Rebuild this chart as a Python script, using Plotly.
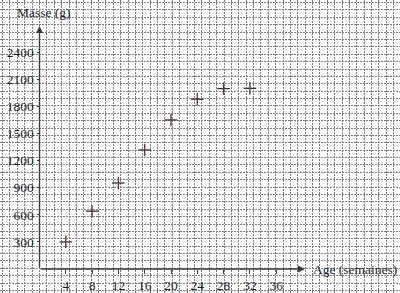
import plotly.graph_objects as go

# ---- data ----
weeks = [4, 8, 12, 16, 20, 24, 28, 32]
mass = [300, 640, 952, 1318, 1650, 1880, 1997, 2000]
x_ticks = [4, 8, 12, 16, 20, 24, 28, 32, 36]
y_ticks = [300, 600, 900, 1200, 1500, 1800, 2100, 2400]
x_title = "Age (semaines)"
y_title = "Masse (g)"

# ---- geometry (pixels) ----
W, H = 400, 293
ox, oy = 39.5, 269.0          # origin pixel
px_x = 26.3 / 4               # px per week
px_y = 27.1 / 300             # px per gram
x_range = [-ox / px_x, (W - ox) / px_x]
y_range = [-(H - oy) / px_y, oy / px_y]
x_end = (305 - ox) / px_x
y_end = (oy - 26) / px_y

FONT = "Liberation Serif, Times New Roman, serif"
TXT = "#1a1a28"
AX = "#3a3a3a"
GRID = "#7c7c7c"

fig = go.Figure()

# invisible trace for the grid (paper-like) axes
fig.add_trace(go.Scatter(x=[0], y=[0], xaxis="x2", yaxis="y2", mode="markers",
                         marker=dict(opacity=0), hoverinfo="skip", showlegend=False))

# data crosses (two strokes to mimic the reference rendering)
fig.add_trace(go.Scatter(x=weeks, y=mass, mode="markers", showlegend=False,
                         marker=dict(symbol="line-ew", size=9,
                                     line=dict(color="#26304f", width=1.3))))
fig.add_trace(go.Scatter(x=weeks, y=mass, mode="markers", showlegend=False,
                         marker=dict(symbol="line-ns", size=9,
                                     line=dict(color="#6b3a2e", width=1.4))))

fig.update_layout(
    width=W, height=H,
    margin=dict(l=0, r=0, t=0, b=0),
    paper_bgcolor="white", plot_bgcolor="white",
    font=dict(family=FONT, size=13, color=TXT),
    xaxis=dict(range=x_range, anchor="free", position=(H - oy) / H,
               showgrid=False, zeroline=False, showline=False,
               tickmode="array", tickvals=x_ticks, ticks="outside", ticklen=4,
               tickcolor=AX, tickfont=dict(size=13.5, family=FONT, color=TXT)),
    yaxis=dict(range=y_range, anchor="free", position=ox / W,
               showgrid=False, zeroline=False, showline=False,
               tickmode="array", tickvals=y_ticks, ticks="outside", ticklen=3,
               tickcolor=AX, tickfont=dict(size=13.5, family=FONT, color=TXT)),
    xaxis2=dict(range=[0, W], overlaying="x", anchor="y2", side="top",
                showticklabels=False, ticks="", zeroline=False, showline=False,
                showgrid=True, tick0=2.6, dtick=7.38, gridcolor=GRID,
                gridwidth=1, griddash="2px,1px"),
    yaxis2=dict(range=[H, 0], overlaying="y", anchor="x2", side="right",
                showticklabels=False, ticks="", zeroline=False, showline=False,
                showgrid=True, tick0=2.6, dtick=7.38, gridcolor=GRID,
                gridwidth=1, griddash="2px,1px"),
)

# axis lines with arrowheads
fig.add_annotation(x=x_end, y=0, ax=0, ay=0, xref="x", yref="y", axref="x", ayref="y",
                   showarrow=True, arrowhead=2, arrowsize=1, arrowwidth=1.4,
                   arrowcolor=AX, text="")
fig.add_annotation(x=0, y=y_end, ax=0, ay=0, xref="x", yref="y", axref="x", ayref="y",
                   showarrow=True, arrowhead=2, arrowsize=1, arrowwidth=1.4,
                   arrowcolor=AX, text="")

# axis titles
fig.add_annotation(x=(311 - ox) / px_x, y=0, xref="x", yref="y", text=x_title,
                   showarrow=False, xanchor="left", yanchor="middle",
                   font=dict(size=13.5, family=FONT, color=TXT))
fig.add_annotation(x=(44 - ox) / px_x, y=(oy - 12) / px_y, xref="x", yref="y",
                   text=y_title, showarrow=False, xanchor="center", yanchor="middle",
                   font=dict(size=13.5, family=FONT, color=TXT))

fig.write_html("out.html")
